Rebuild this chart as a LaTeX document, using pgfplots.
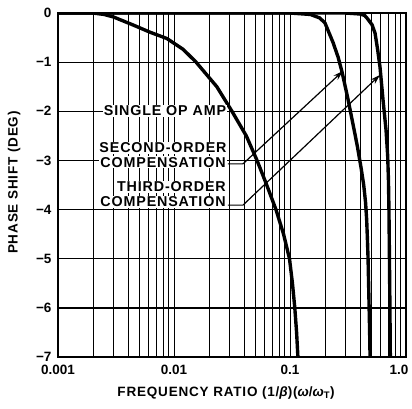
\documentclass[border=0pt]{standalone}
\usepackage{fontspec}
\setmainfont{Liberation Sans}
\newfontfamily\labfont{Liberation Sans}[LetterSpace=6]
\usepackage{pgfplots}
\pgfplotsset{compat=1.18}
\usetikzlibrary{arrows.meta}
\begin{document}
\begin{tikzpicture}
\begin{axis}[
  scale only axis,
  width=348bp, height=344bp,
  xmode=log, log basis x=10,
  xmin=0.001, xmax=1, ymin=-7, ymax=0,
  xtick={0.001,0.01,0.1,1}, xticklabels={0.001,0.01,0.1,{\hspace*{-14bp}1.0}},
  minor xtick={0.002,0.003,0.004,0.005,0.006,0.007,0.008,0.009,
               0.02,0.03,0.04,0.05,0.06,0.07,0.08,0.09,
               0.2,0.3,0.4,0.5,0.6,0.7,0.8,0.9},
  ytick={-7,-6,-5,-4,-3,-2,-1,0},
  yticklabels={−7,−6,−5,−4,−3,−2,−1,0},
  /pgf/number format/assume math mode=true,
  tick style={draw=none},
  xmajorgrids=true, xminorgrids=true, ymajorgrids=true,
  grid style={draw=black, line width=0.5pt},
  major grid style={draw=black, line width=0.5pt},
  minor grid style={draw=black, line width=0.5pt},
  axis line style={line width=1.2pt},
  tick label style={font=\fontsize{13.5bp}{16bp}\selectfont\bfseries},
  xticklabel style={yshift=-5bp},
  yticklabel style={xshift=-3bp},
  label style={font=\fontsize{13.5bp}{16bp}\selectfont\labfont\bfseries},
  xlabel={FREQUENCY RATIO (1/{\itshape β})({\itshape ω}/{\itshape ω}\textsubscript{T})},
  ylabel={PHASE SHIFT (DEG)},
  xlabel style={at={(axis description cs:0.483,-0.105)}, anchor=center},
  ylabel style={at={(axis description cs:-0.126,0.507)}, anchor=center},
]
% heavier horizontal grid lines
\addplot[black, line width=1pt, forget plot] table {
0.001 -1
1 -1
};
\addplot[black, line width=1pt, forget plot] table {
0.001 -2
1 -2
};
\addplot[black, line width=1pt, forget plot] table {
0.001 -3
1 -3
};
\addplot[black, line width=1pt, forget plot] table {
0.001 -4
1 -4
};
\addplot[black, line width=1pt, forget plot] table {
0.001 -5
1 -5
};
\addplot[black, line width=1pt, forget plot] table {
0.001 -6
1 -6
};
% single op amp
\addplot[black, line width=3.4pt] table {
0.001 0
0.002 0
0.0025 -0.03
0.003 -0.08
0.0044 -0.24
0.0062 -0.39
0.0087 -0.52
0.0120 -0.74
0.0155 -1.0
0.0234 -1.5
0.0316 -2.0
0.042 -2.5
0.052 -3.0
0.063 -3.5
0.0757 -4.0
0.088 -4.5
0.099 -5.0
0.105 -5.5
0.110 -6.0
0.114 -6.5
0.117 -7.0
};
% second-order compensation
\addplot[black, line width=3.4pt] table {
0.001 0
0.1 0
0.15 -0.03
0.18 -0.1
0.2 -0.2
0.235 -0.6
0.26 -0.9
0.281 -1.2
0.316 -1.75
0.345 -2.2
0.38 -2.7
0.41 -3.15
0.432 -3.5
0.448 -3.85
0.458 -4.2
0.465 -4.6
0.471 -5.0
0.476 -5.5
0.481 -6.0
0.486 -6.5
0.490 -7.0
};
% third-order compensation
\addplot[black, line width=3.4pt] table {
0.001 0
0.3 0
0.4 -0.02
0.44 -0.05
0.46 -0.1
0.51 -0.24
0.541 -0.41
0.57 -0.75
0.597 -1.1
0.634 -1.77
0.673 -2.38
0.695 -2.9
0.706 -3.4
0.713 -4.0
0.72 -5.0
0.727 -6.0
0.733 -7.0
};
\begin{scope}[every node/.style={font=\fontsize{14.3bp}{17bp}\selectfont\labfont\bfseries, fill=white, inner sep=1pt, anchor=base}]
\node at (axis cs:0.00836,-2.086) {SINGLE OP AMP};
\node at (axis cs:0.00804,-2.839) {SECOND-ORDER};
\node at (axis cs:0.00804,-3.134) {COMPENSATION};
\node at (axis cs:0.00951,-3.632) {THIRD-ORDER};
\node at (axis cs:0.00804,-3.938) {COMPENSATION};
\end{scope}
\draw[line width=1.2pt, -{Stealth[length=10bp,width=6bp]}] (axis cs:0.0292,-3.07) -- (axis cs:0.0393,-3.07) -- (axis cs:0.2862,-1.18);
\draw[line width=1.2pt, -{Stealth[length=10bp,width=6bp]}] (axis cs:0.0292,-3.91) -- (axis cs:0.0393,-3.91) -- (axis cs:0.5970,-1.26);
\end{axis}
\pgfresetboundingbox
\path (current axis.south west) ++(-58bp,-52bp) rectangle ++(412bp,409bp);
\end{tikzpicture}
\end{document}
